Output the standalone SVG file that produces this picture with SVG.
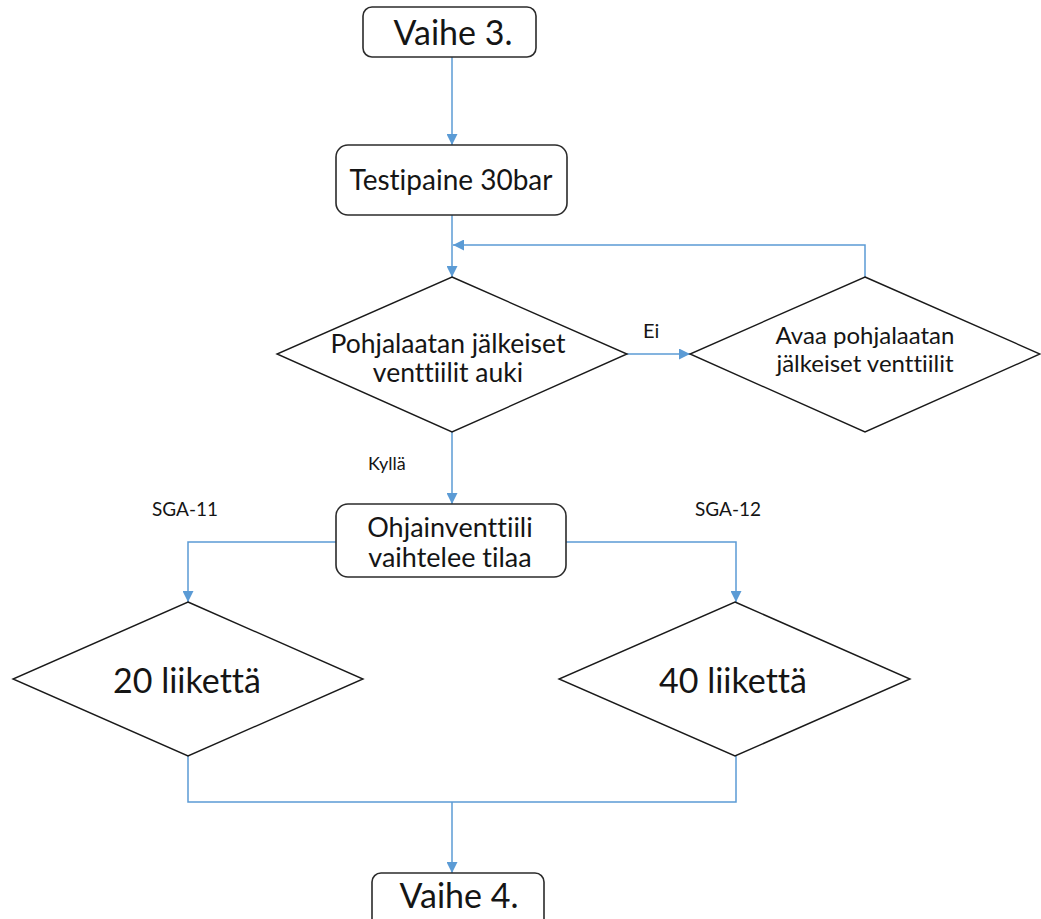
<svg xmlns="http://www.w3.org/2000/svg" width="1041" height="919" viewBox="0 0 1041 919">
  <style>
    .box { fill: #ffffff; stroke: #2b2b2b; stroke-width: 1.6; }
    .dia { fill: #ffffff; stroke: #1a1a1a; stroke-width: 1.4; }
    .wire { fill: none; stroke: #5b9bd5; stroke-width: 1.5; }
    .t { font-family: Lato, "Open Sans", "Liberation Sans", sans-serif; fill: #151515; text-anchor: middle; font-variant-ligatures: none; }
    .lbl { font-family: Lato, "Open Sans", "Liberation Sans", sans-serif; fill: #151515; font-variant-ligatures: none; }
  </style>
  <defs>
    <marker id="arrow" viewBox="0 0 10 10" refX="10" refY="5" markerWidth="11" markerHeight="11" markerUnits="userSpaceOnUse" orient="auto">
      <path d="M0,0 L10,5 L0,10 Z" fill="#5b9bd5"/>
    </marker>
  </defs>

  <rect width="1041" height="919" fill="#ffffff"/>

  <!-- connectors -->
  <g id="connectors">
    <path class="wire" d="M452 57 V145" marker-end="url(#arrow)"/>
    <path class="wire" d="M452 215 V277" marker-end="url(#arrow)"/>
    <path class="wire" d="M865 277 V245 H453" marker-end="url(#arrow)"/>
    <path class="wire" d="M627 354 H690" marker-end="url(#arrow)"/>
    <path class="wire" d="M452 432 V504" marker-end="url(#arrow)"/>
    <path class="wire" d="M336 542 H188 V602" marker-end="url(#arrow)"/>
    <path class="wire" d="M566 542 H736 V602" marker-end="url(#arrow)"/>
    <path class="wire" d="M188 756 V802 H736 V756"/>
    <path class="wire" d="M452 802 V873" marker-end="url(#arrow)"/>
    <text class="lbl" x="643" y="338" font-size="20">Ei</text>
    <text class="lbl" x="368" y="470" font-size="18">Kyllä</text>
    <text class="lbl" x="152" y="516" font-size="19">SGA-11</text>
    <text class="lbl" x="695" y="516" font-size="19">SGA-12</text>
  </g>

  <!-- nodes -->
  <g id="vaihe3">
    <rect class="box" x="363" y="7" width="173" height="50" rx="9"/>
    <text class="t" x="453" y="45" font-size="34">Vaihe 3.</text>
  </g>

  <g id="testipaine">
    <rect class="box" x="336" y="145" width="231" height="70" rx="12"/>
    <text class="t" x="451" y="190" font-size="28">Testipaine 30bar</text>
  </g>

  <g id="venttiilit-auki">
    <polygon class="dia" points="452,277 627,354 452,432 277,354"/>
    <text class="t" x="448" y="353" font-size="26.5">Pohjalaatan jälkeiset</text>
    <text class="t" x="448" y="382" font-size="26.5">venttiilit auki</text>
  </g>

  <g id="avaa-venttiilit">
    <polygon class="dia" points="865,277 1040,354 865,432 690,354"/>
    <text class="t" x="865" y="344" font-size="24">Avaa pohjalaatan</text>
    <text class="t" x="865" y="372" font-size="24">jälkeiset venttiilit</text>
  </g>

  <g id="ohjainventtiili">
    <rect class="box" x="336" y="504" width="230" height="73" rx="12"/>
    <text class="t" x="450" y="537" font-size="27">Ohjainventtiili</text>
    <text class="t" x="450" y="567" font-size="27">vaihtelee tilaa</text>
  </g>

  <g id="liikettä-20">
    <polygon class="dia" points="188,602 363,679 188,756 13,679"/>
    <text class="t" x="187" y="693" font-size="34">20 liikettä</text>
  </g>

  <g id="liikettä-40">
    <polygon class="dia" points="735,602 910,679 735,756 559,679"/>
    <text class="t" x="733" y="693" font-size="34">40 liikettä</text>
  </g>

  <g id="vaihe4">
    <rect class="box" x="372" y="873" width="172" height="60" rx="9"/>
    <text class="t" x="459" y="908" font-size="34">Vaihe 4.</text>
  </g>
</svg>
